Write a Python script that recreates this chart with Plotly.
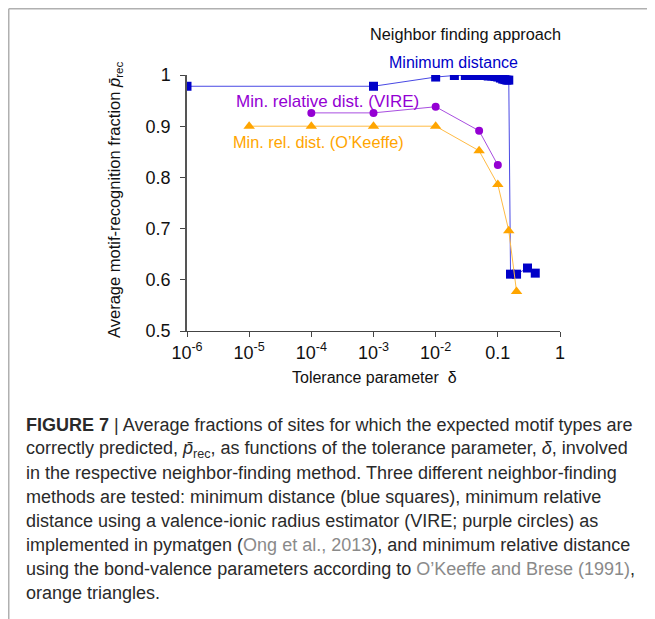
import plotly.graph_objects as go

# ---- data ----
min_dist_x = [1e-6, 1e-3, 0.01, 0.02, 0.03, 0.04, 0.05, 0.06, 0.07, 0.08, 0.09, 0.1,
              0.11, 0.12, 0.13, 0.14, 0.15, 0.16, 0.2, 0.3, 0.4]
min_dist_y = [0.978, 0.978, 0.996, 0.999, 0.999, 0.999, 0.999, 0.999, 0.998, 0.998, 0.997, 0.996,
              0.994, 0.992, 0.991, 0.990, 0.990, 0.611, 0.611, 0.623, 0.613]

vire_x = [1e-4, 1e-3, 0.01, 0.05, 0.1]
vire_y = [0.926, 0.926, 0.938, 0.891, 0.824]

okeeffe_x = [1e-5, 1e-4, 1e-3, 0.01, 0.05, 0.1, 0.15, 0.2]
okeeffe_y = [0.900, 0.900, 0.900, 0.900, 0.852, 0.786, 0.696, 0.577]

x_tickvals = [1e-6, 1e-5, 1e-4, 1e-3, 1e-2, 0.1, 1]
x_ticktext = ["10<sup>-6</sup>", "10<sup>-5</sup>", "10<sup>-4</sup>", "10<sup>-3</sup>",
              "10<sup>-2</sup>", "0.1", "1"]
y_tickvals = [0.5, 0.6, 0.7, 0.8, 0.9, 1.0]
y_ticktext = ["0.5", "0.6", "0.7", "0.8", "0.9", "1"]

caption_lines = [
    "<b>FIGURE 7</b> | Average fractions of sites for which the expected motif types are",
    "correctly predicted, <i>p\u0304</i><sub>rec</sub>, as functions of the tolerance parameter, <i>\u03b4</i>, involved",
    "in the respective neighbor-finding method. Three different neighbor-finding",
    "methods are tested: minimum distance (blue squares), minimum relative",
    "distance using a valence-ionic radius estimator (VIRE; purple circles) as",
    "implemented in pymatgen (<span style='color:#8a8a8a'>Ong et al., 2013</span>), and minimum relative distance",
    "using the bond-valence parameters according to <span style='color:#8a8a8a'>O\u2019Keeffe and Brese (1991)</span>,",
    "orange triangles.",
]

FONT = "Liberation Sans, Arial, Helvetica, sans-serif"
OFF = 8  # page body margin
W, H = 655 - OFF, 619 - OFF
L, R, T, B = 187, 560, 75, 331  # plot area in page pixels

def px(xp):
    return (xp - L) / (R - L)

def py(yp):
    return (B - yp) / (B - T)

fig = go.Figure()
fig.add_trace(go.Scatter(
    x=min_dist_x, y=min_dist_y, mode="lines+markers",
    line=dict(color="#4848e4", width=1),
    marker=dict(symbol="square", size=9, color="#0000c8"),
    showlegend=False, hoverinfo="skip"))
fig.add_trace(go.Scatter(
    x=vire_x, y=vire_y, mode="lines+markers",
    line=dict(color="#a84ee0", width=1),
    marker=dict(symbol="circle", size=8, color="#9400d3"),
    showlegend=False, hoverinfo="skip"))
fig.add_trace(go.Scatter(
    x=okeeffe_x, y=okeeffe_y, mode="lines+markers",
    line=dict(color="#ffbb44", width=1),
    marker=dict(symbol="triangle-up", size=10, color="#ffa500"),
    showlegend=False, hoverinfo="skip"))

annotations = [
    dict(x=px(465), y=py(34), text="Neighbor finding approach", font=dict(size=16.3, color="#111")),
    dict(x=px(453), y=py(62), text="Minimum distance", font=dict(size=16, color="#0000c8")),
    dict(x=px(327), y=py(101), text="Min. relative dist. (VIRE)", font=dict(size=17, color="#9400d3")),
    dict(x=px(318), y=py(142), text="Min. rel. dist. (O\u2019Keeffe)", font=dict(size=16.3, color="#ffa500")),
    dict(x=px(374), y=py(377), text="Tolerance parameter  \u03b4", font=dict(size=16, color="#111")),
    dict(x=px(115), y=py(200), text="Average motif-recognition fraction <i>p\u0304</i><sub>rec</sub>",
         textangle=-90, font=dict(size=16.5, color="#111")),
]
for a in annotations:
    a.update(xref="paper", yref="paper", showarrow=False, xanchor="center", yanchor="middle")

cap_y = [425, 449, 473, 497, 521, 545, 569, 593]
for line, yy in zip(caption_lines, cap_y):
    annotations.append(dict(
        x=px(24), y=py(yy), xref="paper", yref="paper", text=line, showarrow=False,
        xanchor="left", yanchor="middle", align="left",
        font=dict(size=18, color="#2a2a2a")))

shapes = [
    dict(type="line", xref="paper", yref="paper", x0=px(8.75), x1=px(660), y0=py(8.75), y1=py(8.75),
         line=dict(color="#b0b0b0", width=1.5)),
    dict(type="line", xref="paper", yref="paper", x0=px(8.75), x1=px(8.75), y0=py(8.75), y1=py(625),
         line=dict(color="#b0b0b0", width=1.5)),
]

fig.update_layout(
    width=W, height=H,
    margin=dict(l=L - OFF, r=W - (R - OFF), t=T - OFF, b=H - (B - OFF)),
    paper_bgcolor="white", plot_bgcolor="white",
    font=dict(family=FONT, size=18, color="#111"),
    annotations=annotations, shapes=shapes,
    hovermode=False,
    xaxis=dict(type="log", range=[-6, 0], tickvals=x_tickvals, ticktext=x_ticktext,
               showgrid=False, zeroline=False, showline=True, linecolor="#444", linewidth=1,
               ticks="outside", ticklen=5, tickcolor="#444", tickfont=dict(size=18)),
    yaxis=dict(range=[0.5, 1.0], tickvals=y_tickvals, ticktext=y_ticktext,
               showgrid=False, zeroline=False, showline=True, linecolor="#555", linewidth=1.5,
               ticks="outside", ticklen=5, tickcolor="#444", tickfont=dict(size=18),
               ticklabelstandoff=6),
)

fig.write_html("out.html")
